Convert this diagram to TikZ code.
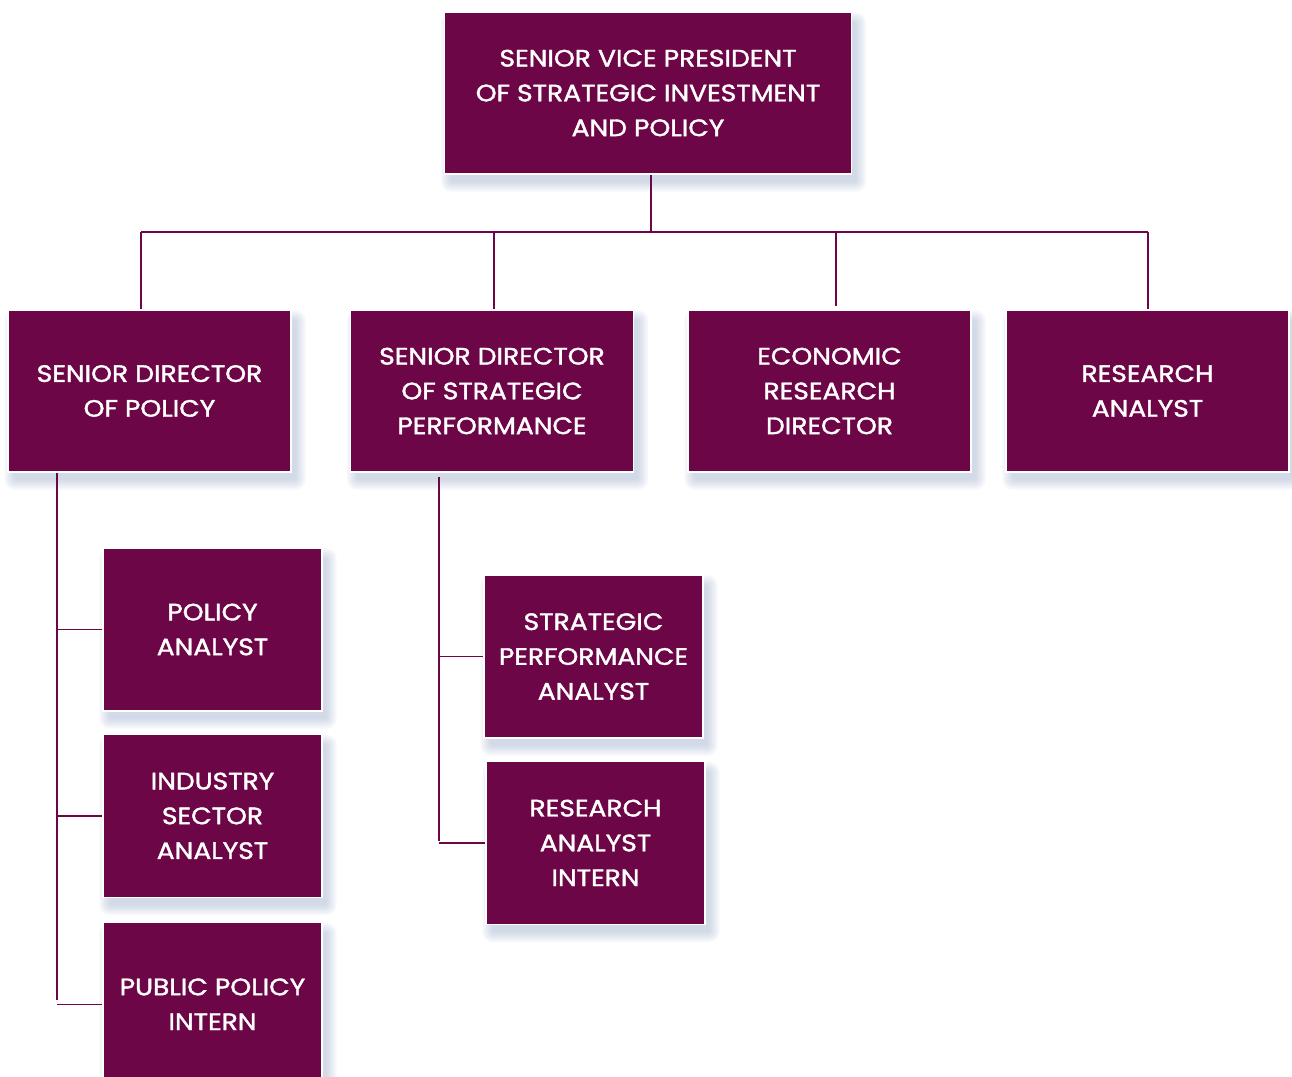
\documentclass[tikz,border=0pt]{standalone}
\usepackage{fontspec}
\setmainfont{Poppins}[FakeBold=1.6, FakeStretch=1.12]
\usetikzlibrary{positioning,backgrounds}
\definecolor{plum}{HTML}{6D0646}
\definecolor{haze}{RGB}{150,168,200}
\begin{document}
\begin{tikzpicture}[
			x=0.02cm, y=-0.02cm,
			role/.style={rectangle, fill=plum, draw=white, line width=0.8pt, text=white, align=center, inner sep=0pt,
					font=\fontsize{13.5}{19.8}\selectfont},
			top/.style={role, minimum width=8.14cm, minimum height=3.24cm},
			head/.style={role, minimum width=5.66cm, minimum height=3.24cm},
			staff/.style={role, minimum width=4.38cm, minimum height=3.26cm},
			link/.style={draw=plum, line width=0.85pt},
			glow/.style={fill=haze, fill opacity=0.09}
		]
		\clip (0,0) rectangle (1292,1076);
		\coordinate (busL) at (141,232);
		\coordinate (busR) at (1148,232);
		\coordinate (dropB) at (494,232);
		\coordinate (dropC) at (836,232);
		\coordinate (trunkA) at (57,472);
		\coordinate (trunkB) at (439,477);
		\draw[link] (busL) -- (busR);
		\draw[link] (651,174) -- (651,232);
		\draw[link] (busL) -- (141,310);
		\draw[link] (dropB) -- (494,310);
		\draw[link] (dropC) -- (836,306);
		\draw[link] (busR) -- (1148,310);
		\draw[link] (trunkA) -- (57,1000);
		\draw[link] (trunkB) -- (439,841);
		\node[top] (svp) at (648,93) {SENIOR VICE PRESIDENT\\OF STRATEGIC INVESTMENT\\AND POLICY};
		\node[head] (sdp) at (149.5,391) {SENIOR DIRECTOR\\OF POLICY};
		\node[head] (sdsp) at (492,391) {SENIOR DIRECTOR\\OF STRATEGIC\\PERFORMANCE};
		\node[head] (erd) at (829.5,391) {ECONOMIC\\RESEARCH\\DIRECTOR};
		\node[head] (ra) at (1147.5,391) {RESEARCH\\ANALYST};
		\node[staff] (pa) at (212.5,629.5) {POLICY\\ANALYST};
		\node[staff, below=22*0.02cm of pa] (isa) {INDUSTRY\\SECTOR\\ANALYST};
		\node[staff, below=24*0.02cm of isa] (ppi) {PUBLIC POLICY\\INTERN};
		\node[staff] (spa) at (593.5,656.5) {STRATEGIC\\PERFORMANCE\\ANALYST};
		\node[staff, below=22*0.02cm of spa, xshift=2*0.02cm] (rai) {RESEARCH\\ANALYST\\INTERN};
		\draw[link] (trunkA |- pa.west) -- (pa.west);
		\draw[link] (trunkA |- isa.west) -- (isa.west);
		\draw[link] (trunkA |- ppi.west) -- (ppi.west);
		\draw[link] (trunkB |- spa.west) -- (spa.west);
		\draw[link] (trunkB |- rai.west) -- (rai.west);
		\begin{scope}[on background layer]
			\foreach \n in {svp,sdp,sdsp,erd,ra,pa,isa,ppi,spa,rai}
			\foreach \g in {1,...,6}
			\fill[glow, rounded corners=\g pt] ([shift={(9-2*\g, 13-2*\g)}]\n.north west) rectangle ([shift={(2+2*\g, 5+2*\g)}]\n.south east);
		\end{scope}
	\end{tikzpicture}
\end{document}
